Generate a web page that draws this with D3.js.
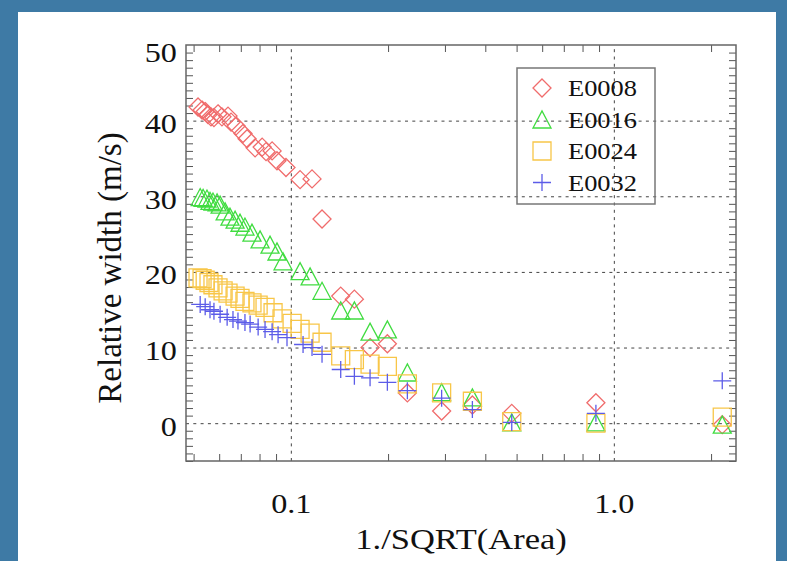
<!DOCTYPE html>
<html>
<head>
<meta charset="utf-8">
<script src="https://cdn.jsdelivr.net/npm/d3@7"></script>
<style>
  body { margin: 0; background: #3e7aa5; }
  svg { display: block; }
  text { font-family: "Liberation Serif", "Times New Roman", serif; fill: #111; }
</style>
</head>
<body>
<div id="container"></div>
<script>
const WIDTH = 787;
const HEIGHT = 561;
const LEFT = 186;
const RIGHT = 736;
const TOP = 45;
const BOTTOM = 461;
const STRETCH = 1.15;

// data
const seriesNames = ["E0008", "E0016", "E0024", "E0032"];
const seriesColors = ["#f06c6c", "#40dc40", "#f8c648", "#5c5ce8"];

const e0008X = [0.0516, 0.0531, 0.0543, 0.0554, 0.0566, 0.0578, 0.0595, 0.0612, 0.0639, 0.0653, 0.0677, 0.0711, 0.0732, 0.0775, 0.0815, 0.0838, 0.0875, 0.0906, 0.0966, 0.1068, 0.1163, 0.1249, 0.1427, 0.1573, 0.1759, 0.199, 0.2295, 0.293, 0.3648, 0.483, 0.88, 2.166];
const e0008Y = [41.8, 41.4, 41.2, 40.8, 40.5, 40.4, 40.9, 40.5, 40.6, 39.8, 39.3, 38.3, 37.6, 36.4, 36.5, 35.9, 36.0, 34.7, 33.8, 32.2, 32.3, 27.0, 16.8, 16.4, 10.0, 10.5, 4.0, 1.6, 2.4, 1.3, 2.7, -0.2];

const e0016X = [0.0524, 0.0535, 0.055, 0.0562, 0.0574, 0.0591, 0.0604, 0.0626, 0.0648, 0.0672, 0.0696, 0.0721, 0.0758, 0.0803, 0.0862, 0.0906, 0.0946, 0.1068, 0.1147, 0.1249, 0.1427, 0.1573, 0.1759, 0.199, 0.2295, 0.293, 0.3648, 0.483, 0.88, 2.166];
const e0016Y = [29.9, 29.8, 29.7, 29.4, 29.3, 29.2, 28.9, 28.0, 27.3, 26.9, 26.5, 26.0, 25.2, 24.3, 23.6, 22.7, 21.4, 20.1, 19.4, 17.5, 14.9, 14.9, 12.1, 12.4, 6.7, 4.1, 3.4, 0.1, 0.1, -0.2];

const e0024X = [0.0516, 0.0531, 0.0543, 0.0558, 0.0574, 0.0595, 0.0617, 0.0639, 0.0672, 0.0696, 0.0721, 0.0758, 0.0792, 0.0832, 0.0881, 0.0939, 0.1009, 0.1068, 0.1147, 0.1249, 0.1427, 0.1573, 0.1759, 0.199, 0.2295, 0.293, 0.3648, 0.483, 0.88, 2.166];
const e0024Y = [19.2, 19.1, 18.9, 18.6, 18.3, 17.9, 17.5, 17.2, 16.8, 16.5, 16.1, 15.9, 15.6, 15.3, 14.6, 13.8, 13.2, 12.4, 11.9, 10.7, 8.9, 8.4, 7.8, 7.5, 5.2, 4.0, 2.9, 0.2, 0.0, 0.8];

const e0032X = [0.0524, 0.0543, 0.0562, 0.0578, 0.0604, 0.0635, 0.0662, 0.0686, 0.0721, 0.0748, 0.0792, 0.0832, 0.0875, 0.0913, 0.0973, 0.1091, 0.1163, 0.1249, 0.1427, 0.1573, 0.1759, 0.199, 0.2295, 0.293, 0.3648, 0.483, 0.88, 2.166];
const e0032Y = [15.7, 15.4, 15.0, 14.8, 14.4, 14.0, 13.7, 13.5, 13.3, 13.1, 12.7, 12.4, 12.1, 11.7, 11.3, 10.4, 10.0, 9.1, 7.1, 6.2, 6.0, 5.4, 4.3, 3.3, 1.8, 0.1, 1.3, 5.6];

const xLabelTicks = [0.1, 1.0];
const xMinorTicks = [0.05, 0.06, 0.07, 0.08, 0.09, 0.2, 0.3, 0.4, 0.5, 0.6, 0.7, 0.8, 0.9, 2];
const yLabelTicks = [0, 10, 20, 30, 40, 50];
const yGridTicks = [0, 10, 20, 30, 40];
const yMinorTicks = d3.range(-5, 51).filter((v) => v % 10 !== 0);

const xTitle = "1./SQRT(Area)";
const yTitle = "Relative width (m/s)";

const symbols = [
  "M0,-9L9,0L0,9L-9,0Z",
  "M-9,8.5L9,8.5L0,-8.5Z",
  "M-9,-9H9V9H-9Z",
  "M-9,0H9M0,-8.5V8.5"
];

const series = [
  { name: seriesNames[0], xs: e0008X, ys: e0008Y },
  { name: seriesNames[1], xs: e0016X, ys: e0016Y },
  { name: seriesNames[2], xs: e0024X, ys: e0024Y },
  { name: seriesNames[3], xs: e0032X, ys: e0032Y }
];

const svg = d3
  .select("div#container")
  .append("svg")
  .attr("width", WIDTH)
  .attr("height", HEIGHT);

svg.append("rect").attr("width", WIDTH).attr("height", HEIGHT).attr("fill", "#3e7aa5");
svg.append("rect").attr("x", 18).attr("y", 12).attr("width", 758).attr("height", HEIGHT - 12).attr("fill", "#fff");

const xScale = d3.scaleLog().domain([0.04736, 2.389]).range([LEFT, RIGHT]);
const yScale = d3.scaleLinear().domain([-5, 50]).range([BOTTOM, TOP]);

// grid lines
const gridStyle = (g) => {
  g.select(".domain").remove();
  g.selectAll(".tick line")
    .attr("stroke", "#444")
    .attr("stroke-width", 1)
    .attr("stroke-dasharray", "3,4.3");
};

svg
  .append("g")
  .attr("transform", `translate(${LEFT}, 0)`)
  .call(d3.axisLeft(yScale).tickValues(yGridTicks).tickSize(-(RIGHT - LEFT)).tickFormat(""))
  .call(gridStyle);

svg
  .append("g")
  .attr("transform", `translate(0, ${BOTTOM})`)
  .call(d3.axisBottom(xScale).tickValues(xLabelTicks).tickSize(-(BOTTOM - TOP)).tickFormat(""))
  .call(gridStyle);

// minor ticks on all four sides
const tickStyle = (g) => {
  g.select(".domain").remove();
  g.selectAll(".tick line").attr("stroke", "#555").attr("stroke-width", 1);
};

svg.append("g").attr("transform", `translate(${LEFT}, 0)`)
  .call(d3.axisLeft(yScale).tickValues(yMinorTicks).tickSize(-7).tickFormat("")).call(tickStyle);
svg.append("g").attr("transform", `translate(${RIGHT}, 0)`)
  .call(d3.axisRight(yScale).tickValues(yMinorTicks).tickSize(-7).tickFormat("")).call(tickStyle);
svg.append("g").attr("transform", `translate(0, ${BOTTOM})`)
  .call(d3.axisBottom(xScale).tickValues(xMinorTicks).tickSize(-7).tickFormat("")).call(tickStyle);
svg.append("g").attr("transform", `translate(0, ${TOP})`)
  .call(d3.axisTop(xScale).tickValues(xMinorTicks).tickSize(-7).tickFormat("")).call(tickStyle);

// frame
svg
  .append("rect")
  .attr("x", LEFT)
  .attr("y", TOP)
  .attr("width", RIGHT - LEFT)
  .attr("height", BOTTOM - TOP)
  .attr("fill", "none")
  .attr("stroke", "#666")
  .attr("stroke-width", 1.5);

// tick labels
svg
  .append("g")
  .attr("transform", `translate(${LEFT}, 0)`)
  .call(d3.axisLeft(yScale).tickValues(yLabelTicks).tickSize(0).tickFormat(d3.format("d")))
  .call((g) => g.select(".domain").remove())
  .selectAll("text")
  .attr("font-size", 28)
  .attr("x", -8)
  .attr("dy", null)
  .attr("y", (d) => (d === 50 ? 16 : 12))
  .attr("transform", `scale(${STRETCH},1)`);

svg
  .append("g")
  .attr("transform", `translate(0, ${BOTTOM})`)
  .call(d3.axisBottom(xScale).tickValues(xLabelTicks).tickSize(0).tickFormat(d3.format(".1f")))
  .call((g) => g.select(".domain").remove())
  .selectAll("text")
  .attr("font-size", 28)
  .attr("dy", null)
  .attr("y", 52)
  .attr("transform", `scale(${STRETCH},1)`);

// axis titles
svg
  .append("text")
  .attr("transform", `translate(${(LEFT + RIGHT) / 2}, 549) scale(${STRETCH},1)`)
  .attr("text-anchor", "middle")
  .attr("font-size", 30)
  .text(xTitle);

svg
  .append("text")
  .attr("transform", `translate(121, 268) rotate(-90)`)
  .attr("text-anchor", "middle")
  .attr("font-size", 33)
  .text(yTitle);

// points
series.forEach((s, i) => {
  svg
    .append("g")
    .selectAll("path")
    .data(s.xs.map((x, j) => [x, s.ys[j]]))
    .enter()
    .append("path")
    .attr("d", symbols[i])
    .attr("transform", (d) => `translate(${xScale(d[0])}, ${yScale(d[1])})`)
    .attr("fill", "none")
    .attr("stroke", seriesColors[i])
    .attr("stroke-width", 1.3);
});

// legend
const legend = svg.append("g").attr("transform", "translate(517, 68)");
legend
  .append("rect")
  .attr("width", 138)
  .attr("height", 136)
  .attr("fill", "none")
  .attr("stroke", "#777")
  .attr("stroke-width", 1.5);

const items = legend
  .selectAll("g.item")
  .data(seriesNames)
  .enter()
  .append("g")
  .attr("class", "item")
  .attr("transform", (_, i) => `translate(25, ${20 + i * 31.5})`);

items
  .append("path")
  .attr("d", (_, i) => symbols[i])
  .attr("fill", "none")
  .attr("stroke", (_, i) => seriesColors[i])
  .attr("stroke-width", 1.3);

items
  .append("text")
  .attr("transform", `translate(26, 8) scale(${STRETCH},1)`)
  .attr("font-size", 23)
  .text((d) => d);
</script>
</body>
</html>
